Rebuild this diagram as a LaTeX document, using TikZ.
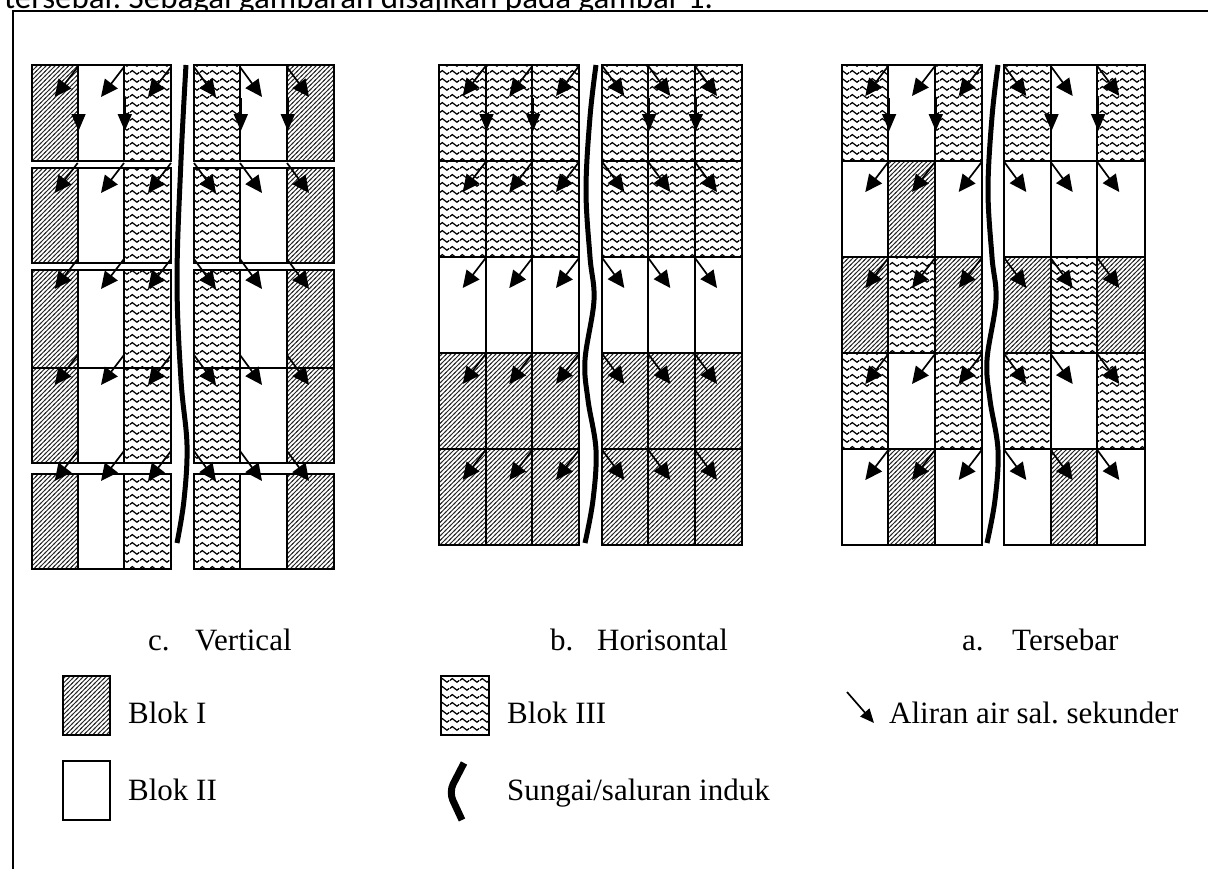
\documentclass[tikz,border=0pt]{standalone}
\usepackage{fontspec}
\setmainfont{Liberation Serif}
\newfontfamily\calib{Carlito}
\usetikzlibrary{arrows.meta,patterns}
\frenchspacing

\pgfdeclarepatternformonly{hatchI}{\pgfqpoint{-1pt}{-1pt}}{\pgfqpoint{5.5pt}{5.5pt}}{\pgfqpoint{4.5pt}{4.5pt}}{%
  \pgfsetlinewidth{0.85pt}%
  \pgfpathmoveto{\pgfqpoint{-1pt}{-1pt}}%
  \pgfpathlineto{\pgfqpoint{5.5pt}{5.5pt}}%
  \pgfusepath{stroke}}

\pgfdeclarepatternformonly{wavyIII}{\pgfqpoint{0pt}{0pt}}{\pgfqpoint{10pt}{8pt}}{\pgfqpoint{10pt}{8pt}}{%
  \pgfsetlinewidth{1.35pt}%
  \pgfpathmoveto{\pgfqpoint{0pt}{4pt}}%
  \pgfpathsine{\pgfqpoint{2.5pt}{2pt}}%
  \pgfpathcosine{\pgfqpoint{2.5pt}{-2pt}}%
  \pgfpathsine{\pgfqpoint{2.5pt}{-2pt}}%
  \pgfpathcosine{\pgfqpoint{2.5pt}{2pt}}%
  \pgfusepath{stroke}}

\tikzset{
  bI/.style={draw=black, line width=2pt, pattern=hatchI, pattern color=black!85},
  bII/.style={draw=black, line width=2pt, fill=white},
  bIII/.style={draw=black, line width=2pt, pattern=wavyIII, pattern color=black},
  flow/.style={line width=1.7pt, -{Triangle[length=17pt,width=16pt]}},
  downflow/.style={line width=1.7pt, -{Triangle[length=17pt,width=14pt]}},
  legflow/.style={line width=1.7pt, -{Triangle[length=14pt,width=12pt]}},
  river/.style={line width=5pt},
  lab/.style={anchor=base west, inner sep=0pt, font=\fontsize{31}{36}\selectfont}
}

\begin{document}
\begin{tikzpicture}[x=1pt,y=-1pt]
\useasboundingbox (0,0) rectangle (1208,868);

% running text above the frame
\node[anchor=base west, inner sep=0pt, font=\calib\fontsize{33}{40}\selectfont] (toptext) at (4,8)
  {tersebar. Sebagai gambaran disajikan pada gambar 1.};
% frame
\draw[line width=2pt, fill=white] (12.5,10.5) rectangle (1240,900);

% ---------------- panel c: Vertical ----------------
\foreach \t/\b in {65/161,168/263,270/368,368/463,474/569}{
  \draw[bI]   (31.7,\t) rectangle (77.7,\b);
  \draw[bII]  (77.7,\t) rectangle (124,\b);
  \draw[bIII] (124,\t) rectangle (171,\b);
  \draw[bIII] (194,\t) rectangle (240,\b);
  \draw[bII]  (240,\t) rectangle (287,\b);
  \draw[bI]   (287,\t) rectangle (334,\b);
}
\foreach \y in {67,163,259,355,451}{
  \foreach \x in {77.7,124,171} \draw[flow] (\x,\y) -- ++(-23,30);
  \foreach \x in {194,240,287} \draw[flow] (\x,\y) -- ++(22,30);
}
\foreach \x in {78.5,124.8,240.8,287.8} \draw[downflow] (\x,98) -- (\x,131);
\draw[river] plot[smooth, tension=0.6] coordinates {(186,65) (181,160) (177,280) (181,380) (187,445) (184,500) (177,543)};

% ---------------- panel b: Horisontal ----------------
\foreach \t/\b/\s in {65/161/bIII,161/257/bIII,257/353/bII,353/449/bI,449/545/bI}{
  \foreach \l/\r in {439.3/485.7,485.7/532.3,532.3/579,602.3/648.3,648.3/695,695/742.3}
    \draw[\s] (\l,\t) rectangle (\r,\b);
}
\foreach \y in {66,162,258,354,450}{
  \foreach \x in {485.7,532.3,579} \draw[flow] (\x,\y) -- ++(-23,30);
  \foreach \x in {602.3,648.3,695} \draw[flow] (\x,\y) -- ++(22,30);
}
\foreach \x in {486.5,533.1,649.1,695.8} \draw[downflow] (\x,98) -- (\x,131);
\draw[river] plot[smooth, tension=0.6] coordinates {(596,65) (590,117) (586,190) (590,257) (594,300) (585,360) (588,400) (596,450) (593,500) (585,543)};

% ---------------- panel a: Tersebar ----------------
\foreach \t/\b/\p/\q/\r/\u/\v/\w in {
  65/161/bIII/bII/bIII/bIII/bII/bIII,
  161/257/bII/bI/bII/bII/bII/bII,
  257/353/bI/bIII/bI/bI/bIII/bI,
  353/449/bIII/bII/bIII/bIII/bII/bIII,
  449/545/bII/bI/bII/bII/bI/bII}{
  \draw[\p] (841.7,\t) rectangle (888.3,\b);
  \draw[\q] (888.3,\t) rectangle (935,\b);
  \draw[\r] (935,\t) rectangle (981.7,\b);
  \draw[\u] (1004.3,\t) rectangle (1050.7,\b);
  \draw[\v] (1050.7,\t) rectangle (1097.3,\b);
  \draw[\w] (1097.3,\t) rectangle (1145,\b);
}
\foreach \y in {66,162,258,354,450}{
  \foreach \x in {888.3,935,981.7} \draw[flow] (\x,\y) -- ++(-23,30);
  \foreach \x in {1004.3,1050.7,1097.3} \draw[flow] (\x,\y) -- ++(22,30);
}
\foreach \x in {889.1,935.8,1051.5,1098.1} \draw[downflow] (\x,98) -- (\x,131);
\draw[river] plot[smooth, tension=0.6] coordinates {(998,65) (992,117) (988,190) (992,257) (996,300) (987,360) (990,400) (998,450) (995,500) (987,543)};

% ---------------- captions ----------------
\node[lab] (cl) at (148,650) {c.};
\node[lab] (ct) at (195,650) {Vertical};
\node[lab] (bl) at (550,650) {b.};
\node[lab] (bt) at (597,650) {Horisontal};
\node[lab] (al) at (962,650) {a.};
\node[lab] (at) at (1012,650) {Tersebar};

% ---------------- legend ----------------
\draw[bI]   (63,676) rectangle (110,735);
\node[lab] (l1) at (128,723) {Blok I};
\draw[bII]  (63,761) rectangle (110,820);
\node[lab] (l2) at (128,800) {Blok II};
\draw[bIII] (441,676) rectangle (489,735);
\node[lab] (l3) at (507,723) {Blok III};
\draw[line width=7pt, rounded corners=9pt] (464,763) -- (449,792) -- (462,820);
\node[lab] (l4) at (507,800) {Sungai/saluran induk};
\coordinate (la) at (847,692);
\coordinate (lb) at (874,723);
\draw[legflow] (la) -- (lb);
\node[lab] (l5) at (889,723) {Aliran air sal. sekunder};
\end{tikzpicture}
\end{document}
